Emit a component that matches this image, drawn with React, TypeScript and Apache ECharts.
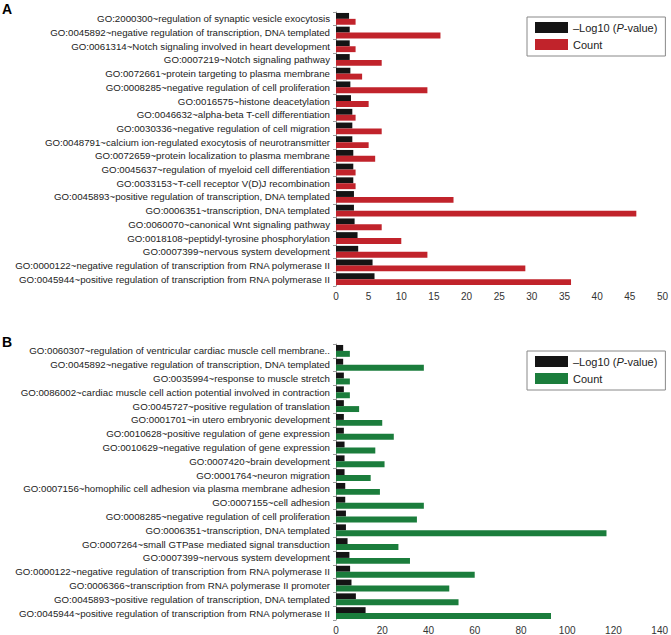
import React, { useEffect, useRef } from "react";
import * as echarts from "echarts";

const categoriesA = [
  "GO:2000300~regulation of synaptic vesicle exocytosis",
  "GO:0045892~negative regulation of transcription, DNA templated",
  "GO:0061314~Notch signaling involved in heart development",
  "GO:0007219~Notch signaling pathway",
  "GO:0072661~protein targeting to plasma membrane",
  "GO:0008285~negative regulation of cell proliferation",
  "GO:0016575~histone deacetylation",
  "GO:0046632~alpha-beta T-cell differentiation",
  "GO:0030336~negative regulation of cell migration",
  "GO:0048791~calcium ion-regulated exocytosis of neurotransmitter",
  "GO:0072659~protein localization to plasma membrane",
  "GO:0045637~regulation of myeloid cell differentiation",
  "GO:0033153~T-cell receptor V(D)J recombination",
  "GO:0045893~positive regulation of transcription, DNA templated",
  "GO:0006351~transcription, DNA templated",
  "GO:0060070~canonical Wnt signaling pathway",
  "GO:0018108~peptidyl-tyrosine phosphorylation",
  "GO:0007399~nervous system development",
  "GO:0000122~negative regulation of transcription from RNA polymerase II",
  "GO:0045944~positive regulation of transcription from RNA polymerase II",
];
const logPA = [2.0, 2.1, 2.1, 2.1, 2.2, 2.2, 2.3, 2.5, 2.5, 2.5, 2.65, 2.65, 2.65, 2.75, 2.75, 2.85, 3.3, 3.4, 5.6, 5.9];
const countA = [3, 16, 3, 7, 4, 14, 5, 3, 7, 5, 6, 3, 3, 18, 46, 7, 10, 14, 29, 36];

const categoriesB = [
  "GO:0060307~regulation of ventricular cardiac muscle cell membrane..",
  "GO:0045892~negative regulation of transcription, DNA templated",
  "GO:0035994~response to muscle stretch",
  "GO:0086002~cardiac muscle cell action potential involved in contraction",
  "GO:0045727~positive regulation of translation",
  "GO:0001701~in utero embryonic development",
  "GO:0010628~positive regulation of gene expression",
  "GO:0010629~negative regulation of gene expression",
  "GO:0007420~brain development",
  "GO:0001764~neuron migration",
  "GO:0007156~homophilic cell adhesion via plasma membrane adhesion",
  "GO:0007155~cell adhesion",
  "GO:0008285~negative regulation of cell proliferation",
  "GO:0006351~transcription, DNA templated",
  "GO:0007264~small GTPase mediated signal transduction",
  "GO:0007399~nervous system development",
  "GO:0000122~negative regulation of transcription from RNA polymerase II",
  "GO:0006366~transcription from RNA polymerase II promoter",
  "GO:0045893~positive regulation of transcription, DNA templated",
  "GO:0045944~positive regulation of transcription from RNA polymerase II",
];
const logPB = [3.1, 3.1, 3.4, 3.4, 3.4, 3.4, 3.4, 3.7, 3.7, 3.7, 4.0, 4.0, 4.3, 4.3, 5.0, 5.8, 6.1, 6.7, 8.6, 12.8];
const countB = [6, 38, 6, 6, 10, 20, 25, 17, 21, 15, 19, 38, 35, 117, 27, 32, 60, 49, 53, 93];

const ticksA = { min: 0, max: 50, interval: 5 };
const ticksB = { min: 0, max: 140, interval: 20 };

const FONT = "'Liberation Sans', Arial, sans-serif";
const BLACK = "#141414";
const RED = "#c1232b";
const GREEN = "#1b7d3c";

export default function App() {
  const ref = useRef<HTMLDivElement>(null);
  useEffect(() => {
    if (!ref.current) return;
    const chart = echarts.init(ref.current, undefined, { renderer: "svg" });
    const yAxisCommon = {
      type: "category" as const,
      inverse: true,
      axisLine: { show: true, lineStyle: { color: "#9a9a9a", width: 1 } },
      axisTick: { show: true, length: 3, lineStyle: { color: "#9a9a9a" } },
      axisLabel: { fontSize: 9.7, color: "#222", fontFamily: FONT, margin: 6 },
    };
    const xAxisCommon = {
      type: "value" as const,
      axisLine: { show: false },
      axisTick: { show: false },
      splitLine: { show: false },
      axisLabel: { fontSize: 10, color: "#333", fontFamily: FONT, margin: 5 },
    };
    const legendCommon = {
      orient: "vertical" as const,
      itemWidth: 33,
      itemHeight: 11,
      itemGap: 6,
      icon: "rect",
      borderColor: "#888",
      borderWidth: 1,
      padding: [5, 8, 6, 8],
      textStyle: {
        fontSize: 11,
        color: "#222",
        fontFamily: FONT,
        rich: {
          it: { fontStyle: "italic", fontSize: 11, color: "#222", fontFamily: FONT },
          n: { fontSize: 11, color: "#222", fontFamily: FONT },
        },
      },
      formatter: (name: string) =>
        name === "logp" ? "{n|–Log10 (}{it|P}{n|-value)}" : "{n|Count}",
    };
    const barCommon = { barCategoryGap: "14%", barGap: "0%" };
    chart.setOption({
      animation: false,
      textStyle: { fontFamily: FONT },
      grid: [
        { left: 336, right: 8, top: 12, height: 274 },
        { left: 336, right: 8, top: 344, height: 277 },
      ],
      xAxis: [
        { ...xAxisCommon, gridIndex: 0, ...ticksA },
        { ...xAxisCommon, gridIndex: 1, ...ticksB },
      ],
      yAxis: [
        { ...yAxisCommon, gridIndex: 0, data: categoriesA },
        { ...yAxisCommon, gridIndex: 1, data: categoriesB },
      ],
      legend: [
        { ...legendCommon, left: 527, top: 17, data: ["logp", "countA"] },
        { ...legendCommon, left: 527, top: 351, data: ["logp", "countB"] },
      ],
      series: [
        { ...barCommon, name: "logp", type: "bar", xAxisIndex: 0, yAxisIndex: 0, data: logPA, itemStyle: { color: BLACK } },
        { ...barCommon, name: "countA", type: "bar", xAxisIndex: 0, yAxisIndex: 0, data: countA, itemStyle: { color: RED } },
        { ...barCommon, name: "logp", type: "bar", xAxisIndex: 1, yAxisIndex: 1, data: logPB, itemStyle: { color: BLACK } },
        { ...barCommon, name: "countB", type: "bar", xAxisIndex: 1, yAxisIndex: 1, data: countB, itemStyle: { color: GREEN } },
      ],
      graphic: [
        { type: "text", left: 2, top: 2, style: { text: "A", fontSize: 14, fontWeight: "bold", fill: "#000", fontFamily: FONT } },
        { type: "text", left: 2, top: 335, style: { text: "B", fontSize: 14, fontWeight: "bold", fill: "#000", fontFamily: FONT } },
      ],
    });
    return () => chart.dispose();
  }, []);
  return (
    <div
      ref={ref}
      style={{ position: "absolute", left: 0, top: 0, width: 671, height: 635, background: "#fff" }}
    />
  );
}
